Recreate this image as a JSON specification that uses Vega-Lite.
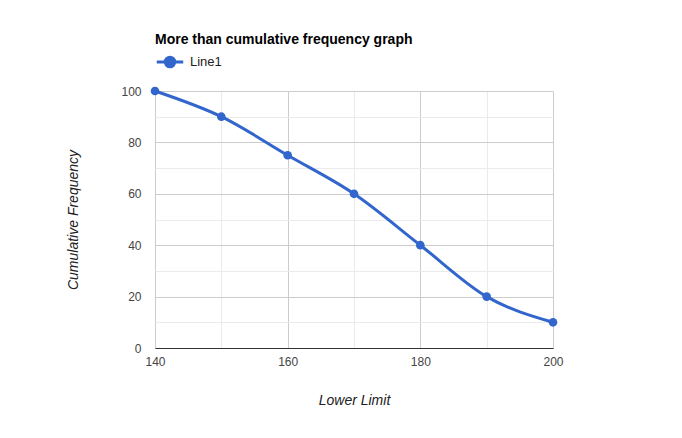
{
  "$schema": "https://vega.github.io/schema/vega-lite/v6.json",
  "width": 398,
  "height": 257,
  "autosize": "none",
  "padding": {"left": 155, "top": 91, "right": 129, "bottom": 90},
  "background": "white",
  "config": {
    "font": "Liberation Sans",
    "view": {"stroke": null}
  },
  "title": {
    "text": "More than cumulative frequency graph",
    "anchor": "start",
    "frame": "group",
    "fontSize": 14,
    "fontWeight": "bold",
    "color": "#000000",
    "font": "Liberation Sans",
    "offset": 0
  },
  "data": {
    "values": [
      {"lower": 140, "freq": 100, "series": "Line1"},
      {"lower": 150, "freq": 90, "series": "Line1"},
      {"lower": 160, "freq": 75, "series": "Line1"},
      {"lower": 170, "freq": 60, "series": "Line1"},
      {"lower": 180, "freq": 40, "series": "Line1"},
      {"lower": 190, "freq": 20, "series": "Line1"},
      {"lower": 200, "freq": 10, "series": "Line1"}
    ]
  },
  "encoding": {
    "x": {
      "field": "lower",
      "type": "quantitative",
      "scale": {"domain": [140, 200], "nice": false, "zero": false},
      "axis": {
        "title": "Lower Limit",
        "titleFontStyle": "italic",
        "titleFontWeight": "normal",
        "titleFontSize": 14,
        "titleColor": "#222222",
        "titlePadding": 26,
        "values": [140, 150, 160, 170, 180, 190, 200],
        "labelExpr": "datum.value % 20 === 0 ? datum.label : ''",
        "labelFontSize": 12,
        "labelColor": "#444444",
        "labelPadding": 8,
        "ticks": false,
        "domain": true,
        "domainColor": "#333333",
        "domainWidth": 1,
        "grid": true,
        "gridColor": {"condition": {"test": "datum.value % 20 === 0", "value": "#cccccc"}, "value": "#ebebeb"},
        "labelFlush": false
      }
    },
    "y": {
      "field": "freq",
      "type": "quantitative",
      "scale": {"domain": [0, 100], "nice": false},
      "axis": {
        "title": "Cumulative Frequency",
        "titleFontStyle": "italic",
        "titleFontWeight": "normal",
        "titleFontSize": 14,
        "titleColor": "#222222",
        "titlePadding": 40,
        "values": [0, 10, 20, 30, 40, 50, 60, 70, 80, 90, 100],
        "labelExpr": "datum.value % 20 === 0 ? datum.label : ''",
        "labelFontSize": 12,
        "labelColor": "#444444",
        "labelPadding": 14,
        "ticks": false,
        "domain": false,
        "grid": true,
        "gridColor": {"condition": {"test": "datum.value % 20 === 0", "value": "#cccccc"}, "value": "#ebebeb"}
      }
    },
    "color": {
      "field": "series",
      "type": "nominal",
      "scale": {"range": ["#3366cc"]},
      "legend": {
        "title": null,
        "orient": "none",
        "legendX": 0,
        "legendY": -44,
        "symbolType": "M-1,0H1M-0.36,0A0.36,0.36 0 1,0 0.36,0A0.36,0.36 0 1,0 -0.36,0Z",
        "symbolSize": 700,
        "symbolStrokeWidth": 3,
        "symbolFillColor": "#3366cc",
        "symbolStrokeColor": "#3366cc",
        "labelFontSize": 13,
        "labelColor": "#222222",
        "labelOffset": 5
      }
    }
  },
  "layer": [
    {
      "mark": {"type": "line", "interpolate": "monotone", "strokeWidth": 3}
    },
    {
      "mark": {"type": "point", "filled": true, "size": 75, "opacity": 1}
    }
  ]
}
